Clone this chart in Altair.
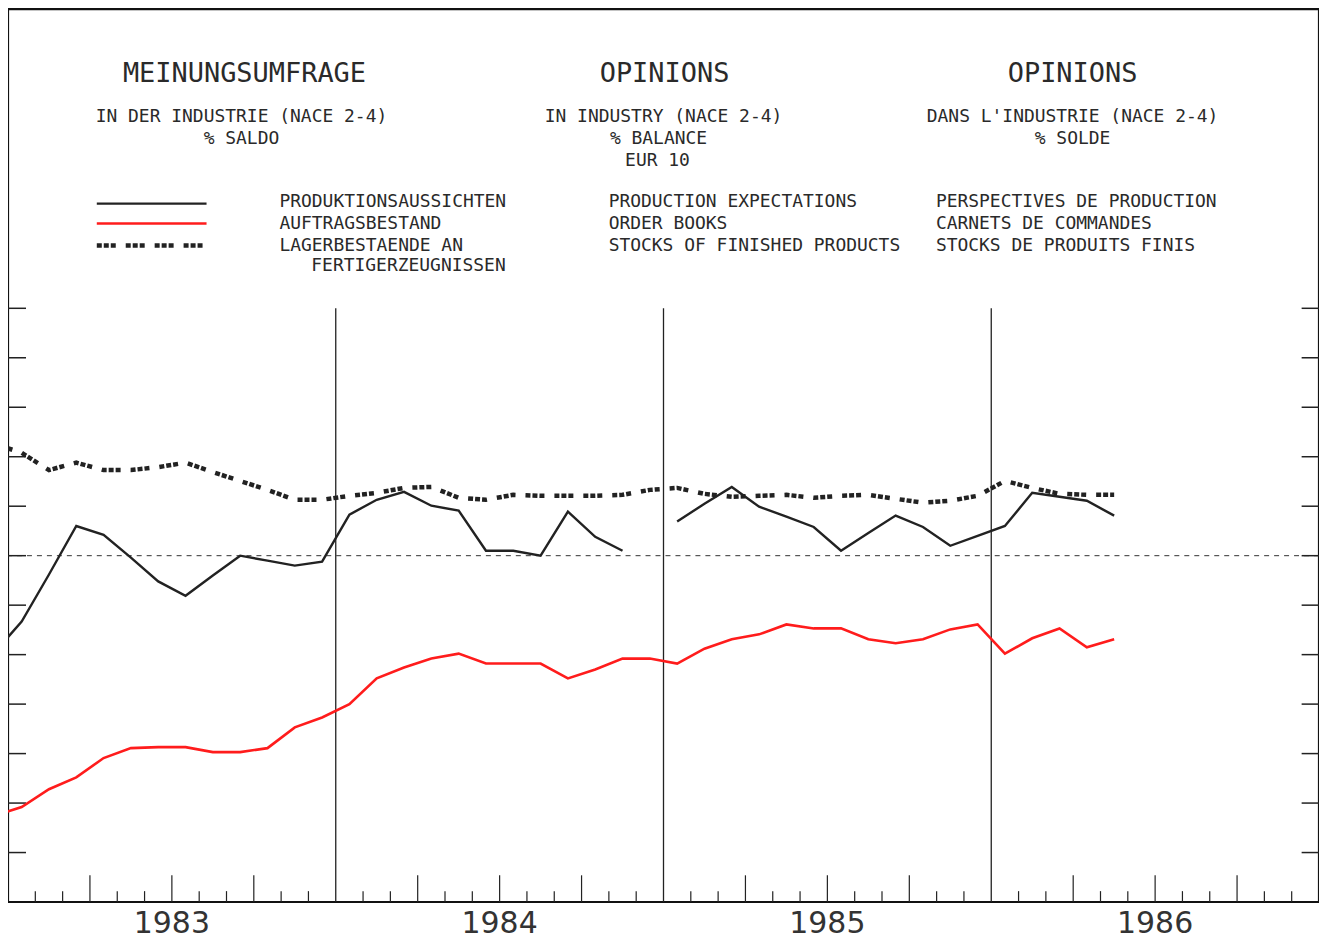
import altair as alt
import pandas as pd

# ---------------- data (Dec 1982 .. May 1986, monthly, % balance) ----------------
months = [-1] + list(range(0, 41))  # months since Jan 1983 (Dec 1982 = -1)

production = [-19.6, -13.3, -3.8, 6.0, 4.2, -0.4, -5.2, -8.1, -4.0, 0.0, -1.0, -2.0, -1.2,
              8.3, 11.3, 12.9, 10.1, 9.1, 1.0, 1.0, 0.0, 8.9, 3.8, 1.0, None,
              6.9, 10.5, 13.9, 9.9, 7.9, 5.8, 1.0, 4.6, 8.1, 5.8, 2.0, 4.0,
              6.0, 12.7, 11.9, 11.1, 8.1]

orders = [-52.6, -50.8, -47.2, -44.8, -40.9, -38.9, -38.7, -38.7, -39.7, -39.7, -38.9, -34.7, -32.7,
          -30.0, -24.8, -22.6, -20.8, -19.8, -21.8, -21.8, -21.8, -24.8, -23.0, -20.8, -20.8,
          -21.8, -18.8, -16.9, -15.9, -13.9, -14.7, -14.7, -16.9, -17.7, -16.9, -14.9, -13.9,
          -19.8, -16.7, -14.7, -18.5, -16.9]

stocks = [22.6, 20.8, 17.3, 18.8, 17.3, 17.3, 17.9, 18.8, 16.9, 15.1, 13.3, 11.3, 11.3,
          12.1, 12.7, 13.7, 13.9, 11.7, 11.3, 12.3, 12.1, 12.1, 12.1, 12.3, 13.3,
          13.7, 12.5, 11.9, 12.1, 12.3, 11.7, 12.1, 12.3, 11.5, 10.7, 11.1, 12.1,
          15.1, 13.7, 12.5, 12.3, 12.3]

years = [1983, 1984, 1985, 1986]
y_ticks = list(range(-60, 51, 10))

# ---------------- tables ----------------
def series_df(vals):
    rows, seg = [], 0
    for m, v in zip(months, vals):
        if v is None:
            seg += 1
            continue
        rows.append({"t": 1983 + (m + 0.5) / 12.0, "v": v, "seg": seg})
    return pd.DataFrame(rows)

df_prod = series_df(production)
df_ord = series_df(orders)
df_stk = series_df(stocks)

X0, X1 = 1983.0, 1987.0
Y0, Y1 = -70.0, 110.48
W, H = 1314, 895

xs = alt.Scale(domain=[X0, X1], nice=False, zero=False)
ys = alt.Scale(domain=[Y0, Y1], nice=False, zero=False)

def X(f="t"):
    return alt.X(f"{f}:Q", scale=xs, axis=None)

def Y(f="v"):
    return alt.Y(f"{f}:Q", scale=ys, axis=None)

ink = "#222222"

line_prod = alt.Chart(df_prod).mark_line(color=ink, strokeWidth=2.4, clip=True).encode(
    x=X(), y=Y(), detail="seg:N", order="t:Q")
line_ord = alt.Chart(df_ord).mark_line(color="#ff1c1c", strokeWidth=2.6, clip=True).encode(
    x=X(), y=Y(), order="t:Q")
line_stk = alt.Chart(df_stk).mark_line(color=ink, strokeWidth=4.5, strokeDash=[5, 2, 5, 2, 5, 10],
                                       strokeCap="butt", clip=True).encode(
    x=X(), y=Y(), order="t:Q")

# zero line
zero = alt.Chart(pd.DataFrame({"v": [0]})).mark_rule(color="#333333", strokeWidth=1,
                                                     strokeDash=[5, 5]).encode(y=Y())

# year separators
yl = pd.DataFrame({"t": years[1:], "y1": [Y0] * 3, "y2": [50] * 3})
year_lines = alt.Chart(yl).mark_rule(color=ink, strokeWidth=1.3).encode(
    x=X(), y=Y("y1"), y2="y2:Q")

# left / right ticks
tl = pd.DataFrame({"v": y_ticks, "a": [X0] * len(y_ticks), "b": [X0 + 0.055] * len(y_ticks)})
tr = pd.DataFrame({"v": y_ticks, "a": [X1 - 0.053] * len(y_ticks), "b": [X1] * len(y_ticks)})
left_ticks = alt.Chart(tl).mark_rule(color=ink, strokeWidth=1.5).encode(x=X("a"), x2="b:Q", y=Y())
right_ticks = alt.Chart(tr).mark_rule(color=ink, strokeWidth=1.5).encode(x=X("a"), x2="b:Q", y=Y())

# bottom month ticks
bt = []
for k in range(1, 48):
    if k % 12 == 0:
        continue
    tall = (k % 3 == 0)
    bt.append({"t": X0 + k / 12.0, "y1": Y0, "y2": Y0 + (5.4 if tall else 2.2)})
bottom_ticks = alt.Chart(pd.DataFrame(bt)).mark_rule(color=ink, strokeWidth=1.2).encode(
    x=X(), y=Y("y1"), y2="y2:Q")

# year labels
ylab = pd.DataFrame({"t": [y + 0.5 for y in years], "lab": [str(y) for y in years]})
year_text = alt.Chart(ylab).mark_text(font="DejaVu Sans", fontSize=30, color="#333333",
                                      baseline="middle", align="center").encode(
    x=X(), y=alt.value(925 - 8), text="lab:N")

# ---------------- header annotations ----------------
mono = "DejaVu Sans Mono"
texts = [
    ("MEINUNGSUMFRAGE", 245, 73, 27, "center"),
    ("OPINIONS", 666, 73, 27, "center"),
    ("OPINIONS", 1075, 73, 27, "center"),
    ("IN DER INDUSTRIE (NACE 2-4)", 242, 116, 18, "center"),
    ("% SALDO", 242, 138, 18, "center"),
    ("IN INDUSTRY (NACE 2-4)", 665, 116, 18, "center"),
    ("% BALANCE", 660, 138, 18, "center"),
    ("EUR 10", 659, 160, 18, "center"),
    ("DANS L'INDUSTRIE (NACE 2-4)", 1075, 116, 18, "center"),
    ("% SOLDE", 1075, 138, 18, "center"),
    ("PRODUKTIONSAUSSICHTEN", 280, 201, 18, "left"),
    ("AUFTRAGSBESTAND", 280, 223, 18, "left"),
    ("LAGERBESTAENDE AN", 280, 245, 18, "left"),
    ("FERTIGERZEUGNISSEN", 312, 266, 18, "left"),
    ("PRODUCTION EXPECTATIONS", 610, 201, 18, "left"),
    ("ORDER BOOKS", 610, 223, 18, "left"),
    ("STOCKS OF FINISHED PRODUCTS", 610, 245, 18, "left"),
    ("PERSPECTIVES DE PRODUCTION", 938, 201, 18, "left"),
    ("CARNETS DE COMMANDES", 938, 223, 18, "left"),
    ("STOCKS DE PRODUITS FINIS", 938, 245, 18, "left"),
]
one = pd.DataFrame({"k": [0]})
text_layers = []
for s, px, py, fs, al in texts:
    text_layers.append(
        alt.Chart(one).mark_text(text=s, x=px - 8, y=py - 8, fontSize=fs, font=mono,
                                 color="#2a2a2a", align=al, baseline="middle")
        .encode(opacity=alt.value(1))
    )

# legend keys
key_black = alt.Chart(one).mark_rule(color=ink, strokeWidth=2.4).encode(
    x=alt.value(97 - 8), x2=alt.value(207 - 8), y=alt.value(203 - 8))
key_red = alt.Chart(one).mark_rule(color="#ff1c1c", strokeWidth=2.6).encode(
    x=alt.value(97 - 8), x2=alt.value(207 - 8), y=alt.value(223 - 8))
key_stk = alt.Chart(one).mark_rule(color=ink, strokeWidth=4.5, strokeDash=[5, 2, 5, 2, 5, 10],
                                   strokeCap="butt").encode(
    x=alt.value(97 - 8), x2=alt.value(207 - 8), y=alt.value(245 - 8))

chart = alt.layer(
    zero, year_lines, left_ticks, right_ticks, bottom_ticks,
    line_ord, line_stk, line_prod, year_text,
    key_black, key_red, key_stk, *text_layers
).properties(
    width=W, height=H,
    autosize=alt.AutoSizeParams(type="none"),
    padding={"left": 0, "top": 0, "right": 0, "bottom": 36},
    background="white",
).configure_view(stroke="#111111", strokeWidth=2.2)

chart.save("out.html", embed_options={"renderer": "svg", "actions": False})
